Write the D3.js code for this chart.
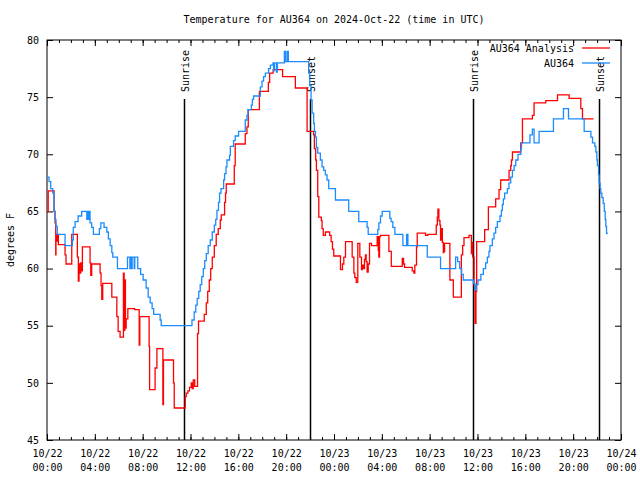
<!DOCTYPE html>
<html><head><meta charset="utf-8">
<script src="https://cdn.jsdelivr.net/npm/d3@7"></script>
<style>
body{margin:0;background:#fff;}
svg{display:block;}
text{font-family:"DejaVu Sans Mono","Liberation Mono",monospace;font-size:10px;fill:#000;}
</style></head><body>
<svg id="c" width="640" height="480"></svg>
<script>
// ---- data (hours since 2024-10-22 00:00 UTC) ----
const titleText = "Temperature for AU364 on 2024-Oct-22 (time in UTC)";
const yLabelText = "degrees F";
const seriesNames = ["AU364 Analysis", "AU364"];
const seriesColors = ["#ff0000", "#1a8cff"];

const obsHours = [0,0.17,0.31,0.48,0.59,0.67,0.75,0.86,1.51,2.12,2.2,2.35,2.6,2.9,3.33,3.39,3.47,3.53,3.6,3.74,3.88,4.38,4.5,4.77,5.0,5.13,5.28,5.42,5.5,5.89,6.73,6.93,6.99,7.07,7.12,7.29,7.34,7.59,7.83,8.04,8.29,8.46,8.63,8.79,8.92,9.46,9.55,12.12,12.19,12.31,12.44,12.56,12.69,12.81,12.94,13.07,13.19,13.32,13.48,13.65,13.82,13.99,14.11,14.21,14.34,14.43,14.55,14.77,14.85,14.97,15.05,15.27,15.33,15.6,15.74,16.02,16.58,16.72,16.81,17.09,17.17,17.28,17.84,17.98,18.11,18.26,18.53,18.68,18.9,18.95,19.01,19.18,19.26,19.85,19.93,20.07,20.18,21.88,21.97,22.08,22.17,22.3,22.36,22.45,22.53,22.64,22.86,23.0,23.14,23.28,23.42,23.56,24.12,25.23,26.07,26.77,26.86,27.66,27.75,27.89,28.03,28.67,28.78,28.92,29.09,29.76,30.07,30.18,31.8,32.91,34.17,34.34,34.51,34.67,34.81,35.66,35.78,35.9,36.04,36.28,36.49,36.68,36.82,36.96,37.04,37.24,37.38,37.52,37.66,37.88,38.0,38.08,38.16,38.27,38.5,38.63,38.78,38.92,39.06,39.2,39.39,39.62,39.68,40.39,40.59,40.73,41.15,42.35,43.19,43.61,44.92,45.48,45.62,45.81,45.9,45.98,46.03,46.12,46.17,46.25,46.31,46.4,46.51,46.6,46.68,46.73,46.79,46.84];
const obsTemps = [68.0,67.6,67.0,66.6,65.0,64.3,63.7,63.0,62.0,62.5,63.6,64.1,64.6,65.0,64.3,65.0,64.3,65.0,64.0,63.6,63.0,63.5,64.0,63.6,63.2,62.6,62.0,61.4,61.0,60.0,61.0,60.0,61.0,60.0,61.0,60.0,61.0,60.0,59.5,59.0,58.3,57.5,57.0,56.5,56.0,55.5,55.0,55.5,55.5,56.2,56.8,57.4,58.0,58.6,59.3,60.0,60.7,61.3,62.0,62.5,63.2,63.8,64.3,65.1,65.8,66.6,67.0,67.75,68.3,68.9,69.5,69.9,70.7,71.2,71.6,72.0,73.0,73.4,73.9,74.3,74.8,75.1,75.9,76.4,76.8,77.1,77.5,77.8,78.0,77.3,78.0,77.2,78.0,79.0,78.1,79.0,78.1,77.1,76.0,74.75,73.6,72.7,72.0,71.5,70.6,70.1,69.5,68.9,68.6,68.2,67.75,67.0,66.0,65.0,64.1,63.6,63.0,63.4,64.0,64.6,65.0,64.4,64.1,63.6,63.0,62.0,63.0,62.0,61.0,60.0,61.0,60.6,60.0,59.5,59.0,58.7,58.1,58.6,59.0,59.5,60.0,60.5,61.0,61.5,62.0,62.6,63.1,63.6,64.1,64.6,65.1,65.6,66.1,66.6,67.0,67.5,68.0,68.6,69.0,69.5,70.0,70.5,71.0,71.7,72.2,71.0,72.0,73.1,74.0,73.1,72.0,71.5,71.0,70.7,70.2,69.5,69.0,68.2,67.5,67.0,66.6,66.2,65.7,65.0,64.3,63.7,63.1,63.0];

const anaHours = [0,0.1,0.59,0.67,0.73,0.75,0.81,0.86,0.95,1.51,1.59,2.07,2.54,2.62,2.68,2.76,2.82,2.9,2.96,3.6,3.66,3.74,4.44,4.52,4.58,4.66,5.42,5.84,5.95,6.11,6.39,6.45,6.51,6.56,6.62,6.76,7.32,7.71,7.76,8.54,8.58,9.04,9.19,9.69,9.74,10.58,10.64,11.56,11.64,11.78,11.92,12.06,12.15,12.23,12.35,12.59,12.67,13.15,13.32,13.44,13.57,13.69,13.82,13.99,14.15,14.32,14.49,14.57,14.85,14.93,14.99,15.66,15.74,16.58,16.72,16.83,17.76,18.51,18.62,18.91,19.7,20.77,21.75,22.3,22.36,22.47,22.53,22.64,22.73,22.94,23.0,23.1,23.28,23.64,23.76,23.87,23.98,24.54,24.71,24.82,24.96,25.52,25.66,25.74,25.86,25.99,26.16,26.3,26.36,26.44,26.55,26.63,26.69,26.77,26.86,26.97,27.14,27.61,27.7,27.75,27.81,27.89,28.59,28.79,29.71,29.82,29.9,30.54,30.68,30.76,30.9,30.96,31.66,31.85,32.5,32.55,32.64,32.69,32.77,32.86,32.91,32.97,33.06,33.14,33.19,33.25,33.69,33.98,34.65,34.76,34.87,35.29,35.49,35.54,35.6,35.71,35.79,35.87,35.93,36.6,36.91,37.52,37.8,37.94,38.64,38.78,38.84,38.92,39.62,39.76,40.59,40.73,41.71,42.69,43.66,44.64,44.78,45.7];
const anaTemps = [65.0,66.8,65.0,64.0,61.2,63.0,62.4,63.0,62.1,61.2,60.4,63.0,61.0,58.9,60.4,59.6,60.5,59.8,61.9,60.5,59.4,60.4,59.6,58.5,57.3,58.7,57.5,55.8,54.5,54.0,59.6,54.6,59.0,54.8,55.6,56.5,56.4,53.3,55.8,53.2,49.4,51.3,53.0,48.1,52.0,50.0,47.8,48.8,49.1,49.3,49.6,50.0,49.5,50.25,49.7,54.3,55.4,56.0,57.0,58.0,59.0,60.0,61.0,62.0,63.0,63.5,64.25,64.7,65.8,66.6,67.4,69.0,70.9,71.8,72.4,73.9,75.5,76.3,77.1,77.4,76.8,75.8,72.0,71.7,70.5,69.5,68.6,66.3,64.5,64.2,63.5,62.9,63.2,62.9,62.35,61.7,61.1,59.9,60.4,61.0,62.35,61.0,59.6,59.2,58.8,62.2,61.0,59.9,60.3,60.0,60.8,61.2,60.6,59.7,60.4,62.2,62.0,62.8,61.6,61.0,62.8,62.9,61.5,60.2,60.9,60.4,60.1,59.8,59.6,60.3,61.9,63.1,62.9,63.0,63.0,63.8,64.5,65.2,64.2,63.8,62.5,63.5,62.3,61.4,61.5,62.2,59.0,57.5,61.2,62.0,62.7,62.9,61.3,62.3,61.0,58.5,55.2,58.0,62.35,63.4,65.4,66.1,66.9,67.75,68.6,69.0,69.5,70.2,71.0,73.1,73.4,74.5,74.7,75.2,74.9,74.0,73.1,73.1];

const sunHours = [11.47, 22.03, 35.6, 46.15];
const sunLabels = ["Sunrise", "Sunset", "Sunrise", "Sunset"];
const yTicks = [45, 50, 55, 60, 65, 70, 75, 80];
const yDomain = [45, 80];
const xDomainHours = [0, 48];

// ---- drawing ----
const t0 = Date.UTC(2024, 9, 22, 0, 0);
const toDate = h => new Date(t0 + h * 3600e3);
const svg = d3.select("#c");
const L = 47, R = 621, T = 40, B = 440;
const x = d3.scaleUtc().domain(xDomainHours.map(toDate)).range([L, R]);
const y = d3.scaleLinear().domain(yDomain).range([B, T]);

svg.append("text").attr("x", 334).attr("y", 23).attr("text-anchor", "middle").text(titleText);
svg.append("text").attr("transform", "translate(14,240) rotate(-90)").attr("text-anchor", "middle").text(yLabelText);

const fmtD = d3.utcFormat("%m/%d"), fmtT = d3.utcFormat("%H:%M");
const majors = d3.utcHour.every(4).range(toDate(0), toDate(48.01));
const minors = d3.utcHour.every(1).range(toDate(0), toDate(48.01));

function styleAxis(g){ g.select(".domain").remove(); g.selectAll("line").attr("stroke","#000"); }
svg.append("g").attr("transform", `translate(0,${B})`).call(d3.axisBottom(x).tickValues(minors).tickSize(-3).tickFormat("")).call(styleAxis);
svg.append("g").attr("transform", `translate(0,${T})`).call(d3.axisTop(x).tickValues(minors).tickSize(-3).tickFormat("")).call(styleAxis);
const xb = svg.append("g").attr("transform", `translate(0,${B})`).call(d3.axisBottom(x).tickValues(majors).tickSize(-6).tickPadding(0).tickFormat("")).call(styleAxis);
svg.append("g").attr("transform", `translate(0,${T})`).call(d3.axisTop(x).tickValues(majors).tickSize(-6).tickFormat("")).call(styleAxis);
xb.selectAll(".tick").each(function(d){
  const t = d3.select(this).append("text").attr("text-anchor","middle").attr("fill","#000").style("font-size","10px");
  t.append("tspan").attr("x",0).attr("y",17).text(fmtD(d));
  t.append("tspan").attr("x",0).attr("y",31).text(fmtT(d));
});
const yl = svg.append("g").attr("transform", `translate(${L},0)`).call(d3.axisLeft(y).tickValues(yTicks).tickSize(-6).tickPadding(8)).call(styleAxis);
yl.selectAll("text").style("font-size","10px").attr("fill","#000").style("font-family","DejaVu Sans Mono, monospace");
svg.append("g").attr("transform", `translate(${R},0)`).call(d3.axisRight(y).tickValues(yTicks).tickSize(-6).tickFormat("")).call(styleAxis);

svg.append("rect").attr("x", L).attr("y", T).attr("width", R - L).attr("height", B - T).attr("fill", "none").attr("stroke", "#000").attr("stroke-width", 1);

sunHours.forEach((h, i) => {
  const sx = Math.round(x(toDate(h))) + 0.5;
  svg.append("line").attr("x1", sx).attr("x2", sx).attr("y1", 99).attr("y2", B).attr("stroke", "#000").attr("stroke-width", 1.5);
  svg.append("text").attr("transform", `translate(${sx + 4},92) rotate(-90)`).attr("text-anchor", "start").text(sunLabels[i]);
});

const line = d3.line().curve(d3.curveStepAfter).x(d => x(toDate(d[0]))).y(d => y(d[1]));
const ana = anaHours.map((h, i) => [h, anaTemps[i]]);
const obs = obsHours.map((h, i) => [h, obsTemps[i]]);
svg.append("path").datum(ana).attr("d", line).attr("fill", "none").attr("stroke", seriesColors[0]).attr("stroke-width", 1.3);
svg.append("path").datum(obs).attr("d", line).attr("fill", "none").attr("stroke", seriesColors[1]).attr("stroke-width", 1.3);

[0, 1].forEach(i => {
  const ly = 48 + i * 15;
  svg.append("text").attr("x", 574).attr("y", ly + 4).attr("text-anchor", "end").text(seriesNames[i]);
  svg.append("line").attr("x1", 582).attr("x2", 610).attr("y1", ly).attr("y2", ly).attr("stroke", seriesColors[i]).attr("stroke-width", 1.3);
});
</script></body></html>
